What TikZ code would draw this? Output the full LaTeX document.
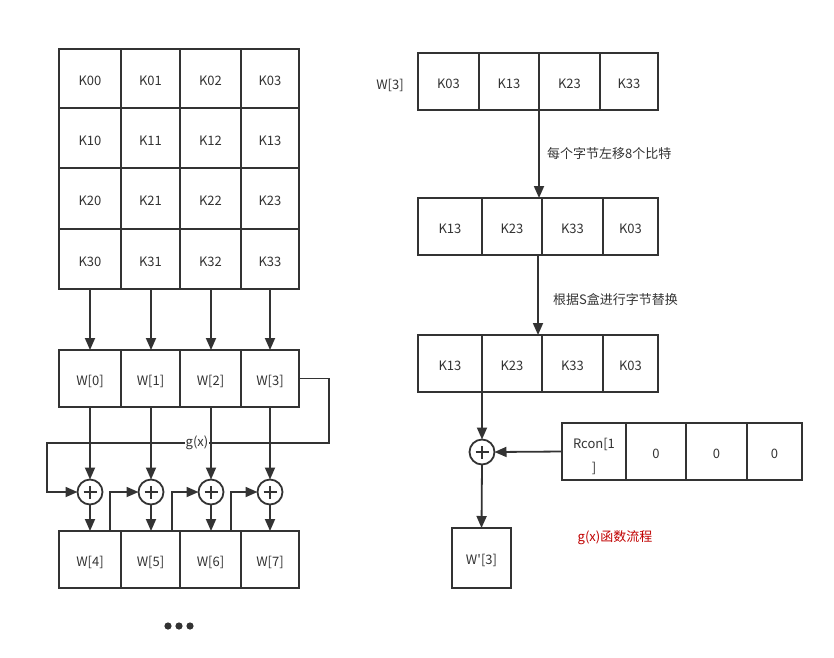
\documentclass[tikz,border=0pt]{standalone}
\usepackage{fontspec}
\setmainfont{Noto Sans CJK SC}[Ligatures=TeXOff]
\usetikzlibrary{arrows.meta}
\definecolor{ln}{HTML}{333333}
\definecolor{redtxt}{HTML}{C00000}
\newcommand\cellbox[6]{\node[cell, minimum width={(#4-#2)*1pt}, minimum height={(#5-#3)*1pt}] (#1) at ({(#2+#4)/2},{(#3+#5)/2}) {\raisebox{-2.5pt}[\height][\depth]{#6}};}
\begin{document}
\begin{tikzpicture}[x=1pt,y=-1pt,
  font=\fontsize{13}{15.5}\selectfont,
  cell/.style={draw=ln, line width=1.8pt, inner sep=0pt, outer sep=0pt, text=ln},
  arr/.style={draw=ln, line width=1.8pt, -{Triangle[length=12pt,width=10pt]}},
  xor/.style={circle, draw=ln, line width=1.8pt, minimum size=25pt, inner sep=0pt, outer sep=0pt,
    path picture={\draw[ln, line width=1.8pt] ([xshift=-6.5pt]path picture bounding box.center) -- ([xshift=6.5pt]path picture bounding box.center);
                  \draw[ln, line width=1.8pt] ([yshift=-6.5pt]path picture bounding box.center) -- ([yshift=6.5pt]path picture bounding box.center);}},
  lab/.style={text=ln, inner sep=1pt}]
\useasboundingbox (0,0) rectangle (834,657);
% key matrix
\cellbox{k00}{59}{49}{121}{108}{K00}
\cellbox{k01}{121}{49}{180}{108}{K01}
\cellbox{k02}{180}{49}{241}{108}{K02}
\cellbox{k03}{241}{49}{299}{108}{K03}
\cellbox{k10}{59}{108}{121}{168}{K10}
\cellbox{k11}{121}{108}{180}{168}{K11}
\cellbox{k12}{180}{108}{241}{168}{K12}
\cellbox{k13}{241}{108}{299}{168}{K13}
\cellbox{k20}{59}{168}{121}{229}{K20}
\cellbox{k21}{121}{168}{180}{229}{K21}
\cellbox{k22}{180}{168}{241}{229}{K22}
\cellbox{k23}{241}{168}{299}{229}{K23}
\cellbox{k30}{59}{229}{121}{289}{K30}
\cellbox{k31}{121}{229}{180}{289}{K31}
\cellbox{k32}{180}{229}{241}{289}{K32}
\cellbox{k33}{241}{229}{299}{289}{K33}
% W row
\cellbox{w0}{59}{350}{121}{407}{W[0]}
\cellbox{w1}{121}{350}{180}{407}{W[1]}
\cellbox{w2}{180}{350}{241}{407}{W[2]}
\cellbox{w3}{241}{350}{299}{407}{W[3]}
% W4 row
\cellbox{w4}{59}{531}{121}{588}{W[4]}
\cellbox{w5}{121}{531}{180}{588}{W[5]}
\cellbox{w6}{180}{531}{241}{588}{W[6]}
\cellbox{w7}{241}{531}{299}{588}{W[7]}
% xor circles
\node[xor] (p1) at (90,492) {};
\node[xor] (p2) at (151,492) {};
\node[xor] (p3) at (211,492) {};
\node[xor] (p4) at (270,492) {};
% arrows matrix -> W
\coordinate (m0) at (90,289);
\coordinate (m1) at (151,289);
\coordinate (m2) at (211,289);
\coordinate (m3) at (270,289);
\coordinate (n0) at (90,350);
\coordinate (n1) at (151,350);
\coordinate (n2) at (211,350);
\coordinate (n3) at (270,350);
\draw[arr] (m0) -- (n0);
\draw[arr] (m1) -- (n1);
\draw[arr] (m2) -- (n2);
\draw[arr] (m3) -- (n3);
% g(x) loop
\coordinate (g1) at (329,378.5);
\coordinate (g2) at (329,443);
\coordinate (g3) at (47,443);
\coordinate (g4) at (47,492);
\draw[arr] (w3.east) -- (g1) -- (g2) -- (g3) -- (g4) -- (p1.west);
% W -> xor
\coordinate (o0) at (90,407);
\coordinate (o1) at (151,407);
\coordinate (o2) at (211,407);
\coordinate (o3) at (270,407);
\draw[arr] (o0) -- (p1.north);
\draw[arr] (o1) -- (p2.north);
\draw[arr] (o2) -- (p3.north);
\draw[arr] (o3) -- (p4.north);
\node[lab, fill=white] (gx) at (197,443) {g(x)};
% xor -> W4
\coordinate (q0) at (90,531);
\coordinate (q1) at (151,531);
\coordinate (q2) at (211,531);
\coordinate (q3) at (270,531);
\draw[arr] (p1.south) -- (q0);
\draw[arr] (p2.south) -- (q1);
\draw[arr] (p3.south) -- (q2);
\draw[arr] (p4.south) -- (q3);
% chain
\coordinate (c1a) at (110,531);
\coordinate (c1b) at (110,492);
\coordinate (c2a) at (172,531);
\coordinate (c2b) at (172,492);
\coordinate (c3a) at (231,531);
\coordinate (c3b) at (231,492);
\draw[arr] (q0) -- (c1a) -- (c1b) -- (p2.west);
\draw[arr] (q1) -- (c2a) -- (c2b) -- (p3.west);
\draw[arr] (q2) -- (c3a) -- (c3b) -- (p4.west);
% dots
\fill[ln] (168,626) circle (3.6pt) (179,626) circle (3.6pt) (190,626) circle (3.6pt);
% right side
\node[lab] (w3lab) at (390,85) {W[3]};
\cellbox{a0}{418}{53}{479}{110}{K03}
\cellbox{a1}{479}{53}{539}{110}{K13}
\cellbox{a2}{539}{53}{600}{110}{K23}
\cellbox{a3}{600}{53}{658}{110}{K33}
\cellbox{b0}{418}{198}{482}{255}{K13}
\cellbox{b1}{482}{198}{542}{255}{K23}
\cellbox{b2}{542}{198}{603}{255}{K33}
\cellbox{b3}{603}{198}{658}{255}{K03}
\cellbox{c0}{418}{335}{482}{392}{K13}
\cellbox{c1}{482}{335}{542}{392}{K23}
\cellbox{c2}{542}{335}{603}{392}{K33}
\cellbox{c3}{603}{335}{658}{392}{K03}
\coordinate (s1) at (539,110);
\coordinate (e1) at (539,198);
\draw[arr] (s1) -- (e1);
\node[lab, anchor=west] (t1) at (546,154) {每个字节左移8个比特};
\coordinate (s2) at (538,255);
\coordinate (e2) at (538,335);
\draw[arr] (s2) -- (e2);
\node[lab, anchor=west] (t2) at (552,300) {根据S盒进行字节替换};
\node[xor] (p5) at (482,452) {};
\coordinate (s3) at (482,392);
\draw[arr] (s3) -- (p5.north);
\node[cell, minimum width=64pt, minimum height=57pt, align=center, font=\fontsize{13}{21}\selectfont] (r0) at (594,451.5) {\raisebox{-5pt}[\height][\depth]{\begin{tabular}{@{}c@{}}Rcon[1\\[3pt]]\end{tabular}}};
\cellbox{r1}{626}{423}{686}{480}{0}
\cellbox{r2}{686}{423}{747}{480}{0}
\cellbox{r3}{747}{423}{802}{480}{0}
\draw[arr] (r0.west) -- (p5.east);
\cellbox{wp}{452}{528}{511}{588}{W'[3]}
\draw[arr] (p5.south) -- (wp.north);
\node[text=redtxt, inner sep=1pt] (title) at (615,538) {g(x)函数流程};
\end{tikzpicture}
\end{document}
